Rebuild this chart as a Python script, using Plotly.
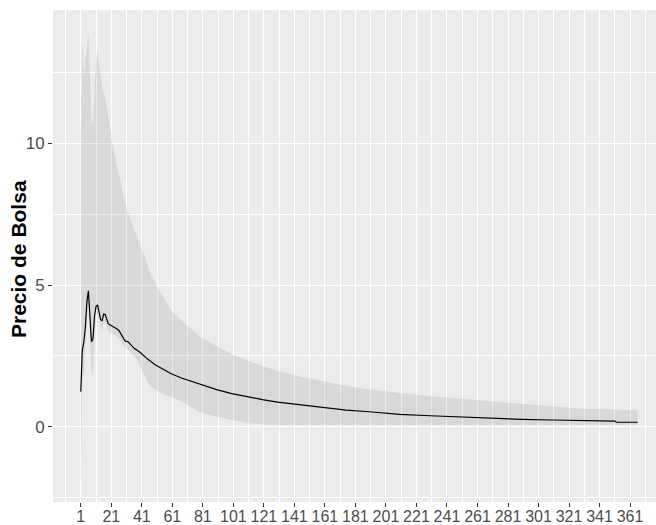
import plotly.graph_objects as go

# ---- data ----
line_days = [1, 2, 3, 4, 5, 6, 7, 8, 9, 10, 11, 12, 13, 14, 15, 16, 17, 18, 19, 20,
             22, 24, 26, 28, 30, 32, 34, 36, 40, 45, 50, 55, 60, 67, 74, 80, 90, 100,
             110, 120, 130, 145, 160, 175, 190, 210, 230, 250, 270, 290, 310, 330,
             351, 352, 366]
line_vals = [1.24, 2.7, 3.0, 3.5, 4.4, 4.8, 3.9, 3.0, 3.1, 3.9, 4.25, 4.3, 4.05, 3.78,
             3.75, 3.98, 3.96, 3.8, 3.64, 3.6,
             3.55, 3.48, 3.4, 3.2, 3.03, 3.0, 2.88, 2.77, 2.62, 2.38, 2.18, 2.02, 1.88,
             1.72, 1.6, 1.48, 1.31, 1.17, 1.06, 0.96, 0.87, 0.77, 0.69, 0.59, 0.53,
             0.44, 0.39, 0.34, 0.3, 0.26, 0.24, 0.21, 0.2, 0.16, 0.16]

band_days = [1, 2, 3, 4, 5, 6, 7, 8, 9, 10, 11, 12, 13, 14, 15, 16, 17, 18, 19, 20,
             22, 24, 26, 28, 30, 32, 34, 36, 38, 41, 44, 47, 51, 56, 61, 66, 72, 79,
             90, 101, 112, 128, 142, 155, 170, 183, 197, 210, 230, 250, 270, 290,
             310, 330, 331, 351, 352, 366]
band_upper = [10.8, 13.6, 12.4, 12.9, 13.5, 13.9, 12.6, 11.0, 10.6, 11.8, 13.0, 13.2,
              12.8, 12.4, 12.0, 11.8, 11.6, 11.3, 11.0, 10.6,
              9.9, 9.4, 8.9, 8.35, 7.9, 7.55, 7.25, 6.95, 6.7, 6.25, 5.85, 5.35, 4.95,
              4.5, 4.05, 3.8, 3.5, 3.18, 2.85, 2.54, 2.3, 2.0, 1.8, 1.65, 1.5, 1.37,
              1.27, 1.19, 1.08, 0.98, 0.9, 0.81, 0.73, 0.66, 0.63, 0.62, 0.59, 0.59]
band_lower = [-1.89, 1.7, 1.8, 2.6, 3.8, 4.3, 3.2, 2.0, 1.8, 3.1, 3.9, 4.0, 3.8, 3.5,
              3.4, 3.7, 3.7, 3.55, 3.38, 3.33,
              3.28, 3.2, 3.1, 2.95, 2.8, 2.72, 2.6, 2.48, 2.35, 2.0, 1.65, 1.4, 1.27,
              1.13, 1.03, 0.92, 0.75, 0.52, 0.35, 0.23, 0.12, 0.06, 0.05, 0.05, 0.05,
              0.05, 0.05, 0.05, 0.05, 0.05, 0.05, 0.06, 0.06, 0.06, 0.06, 0.06, 0.06,
              0.06]

x_ticks = list(range(1, 362, 20))
x_minor = list(range(-9, 372, 20))
y_ticks = [0, 5, 10]
y_minor = [-2.5, 2.5, 7.5, 12.5]
y_title = "Precio de Bolsa"

# ---- figure ----
fig = go.Figure()
fig.add_trace(go.Scatter(
    x=band_days + band_days[::-1],
    y=band_upper + band_lower[::-1],
    fill="toself", fillcolor="rgba(51,51,51,0.1)",
    line=dict(width=0), mode="lines", hoverinfo="skip", showlegend=False))
fig.add_trace(go.Scatter(
    x=line_days, y=line_vals, mode="lines",
    line=dict(color="black", width=1.2), showlegend=False))

font_family = "Liberation Sans, Arial, sans-serif"
fig.update_layout(
    width=656, height=525,
    margin=dict(l=53, r=0, t=10, b=23),
    paper_bgcolor="white", plot_bgcolor="#EBEBEB",
    font=dict(family=font_family, size=16, color="#4D4D4D"),
    showlegend=False,
)
fig.update_xaxes(
    range=[-17.2, 378.0], tickmode="array", tickvals=x_ticks,
    ticktext=[str(v) for v in x_ticks], automargin=False,
    showgrid=True, gridcolor="white", gridwidth=1.4, zeroline=False,
    ticks="outside", ticklen=4, tickwidth=1, tickcolor="#333333",
    ticklabelstandoff=-4,
    tickfont=dict(size=16, color="#4D4D4D"), showline=False,
    minor=dict(tickvals=x_minor, showgrid=True, gridcolor="white", gridwidth=0.7, ticks=""),
)
fig.update_yaxes(
    range=[-2.655, 14.71], tickmode="array", tickvals=y_ticks,
    ticktext=[str(v) for v in y_ticks], automargin=False,
    showgrid=True, gridcolor="white", gridwidth=1.4, zeroline=False,
    ticks="outside", ticklen=4, tickwidth=1, tickcolor="#333333",
    tickfont=dict(size=17, color="#4D4D4D"), showline=False,
    minor=dict(tickvals=y_minor, showgrid=True, gridcolor="white", gridwidth=0.7, ticks=""),
)
fig.add_annotation(
    text="<b>" + y_title + "</b>", xref="paper", yref="paper",
    x=0, y=0.5, xanchor="center", yanchor="middle", xshift=-35, yshift=-3,
    textangle=-90, showarrow=False,
    font=dict(family=font_family, size=21, color="black"))

fig.write_html("out.html")
